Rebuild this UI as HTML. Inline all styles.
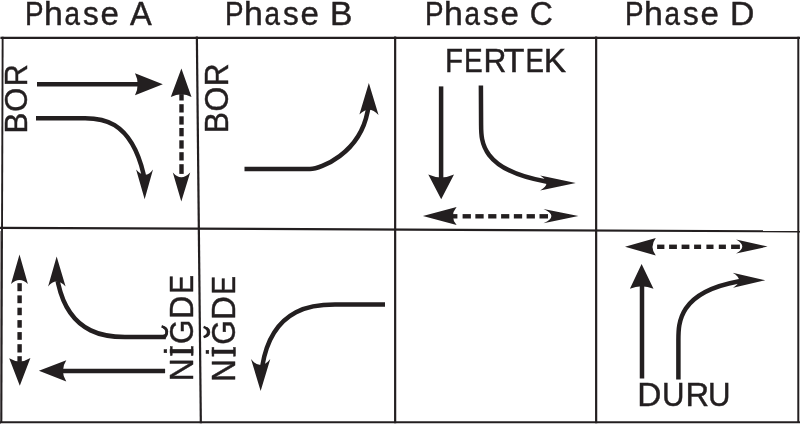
<!DOCTYPE html>
<html><head><meta charset="utf-8"><title>Phases</title>
<style>html,body{margin:0;padding:0;background:#fff;width:800px;height:424px;overflow:hidden}svg{display:block;will-change:transform}</style>
</head><body><svg width="800" height="424" viewBox="0 0 800 424"><rect x="0" y="231" width="1" height="193" fill="#999596"/><g fill="none" stroke="#231f20" stroke-width="2.2" stroke-linecap="square"><path d="M1.5,37.8 L799,37.8"/><path d="M0.5,422.25 L799,422.25" stroke-width="2"/><path d="M1,227.8 L799,231.4"/><path d="M2.65,37.7 L1.4,422.1" stroke-width="1.9"/><path d="M196.87,37.7 L200.83,422.1"/><path d="M395.15,37.7 L395.15,422.1"/><path d="M596.15,37.7 L596.15,422.1"/><path d="M798.3,37.7 L798.3,422.1" stroke-width="2"/></g><g fill="none" stroke="#231f20" stroke-width="4.5" stroke-linejoin="round"><path d="M37,84.2 L138,84.2"/><path d="M36,118.2 L85,118.2 C98.9,118.2 130.4,118.2 143.5,174.0 L144,177"/><path d="M244.5,169 L310,169 C320.5,169 359.4,153.7 367.5,112.0 L368.3,108"/><path d="M441.1,86.4 L441.1,178"/><path d="M480.9,85.5 L481.1,125 C481.1,141.3 481.1,169.9 546.0,181.5 L549,182"/><path d="M642,378.5 L642,285"/><path d="M678.4,379.6 L678.4,340 C678.4,322.9 678.4,292.6 738.0,281.5 L741,281"/><path d="M165.8,337 L125,337 C110.6,337.0 70.1,337.0 58.3,284.0 L57.7,281"/><path d="M165.1,370.9 L62,370.9"/><path d="M385,304.6 L335,304.6 C317.8,304.6 272.5,304.6 262.3,366.0 L261.8,369"/></g><g fill="#231f20" stroke="none"><path d="M162.8,84.25 L135,73.2 Q140.40,84.25 135,95.3 Z"/><path d="M144.65,199.2 L136.1,169.4 Q145.45,180.20 153,169.4 Z"/><path d="M181.4,68.6 L170.8,97 Q181.65,91.60 191.5,97 Z"/><path d="M181.3,201.4 L172.8,172.6 Q181.10,182.00 190.2,172.6 Z"/><rect x="179.30" y="94.10" width="4.4" height="6.40"/><rect x="179.30" y="104.20" width="4.4" height="8.30"/><rect x="179.30" y="116.30" width="4.4" height="8.30"/><rect x="179.30" y="128.00" width="4.4" height="8.30"/><rect x="179.30" y="140.30" width="4.4" height="8.30"/><rect x="179.30" y="152.20" width="4.4" height="8.30"/><rect x="179.30" y="164.20" width="4.4" height="9.70"/><path d="M368.85,83 L359.4,114.6 Q369.02,104.75 378.55,115.1 Z"/><path d="M441.2,199.3 L428.3,174.6 Q441.25,180.40 454,174.6 Z"/><path d="M575.75,183.1 L540.2,175.6 Q552.80,183.60 540.2,190.4 Z"/><path d="M422.9,216.1 L456.6,207.1 Q449.20,216.10 456.6,225.1 Z"/><path d="M578.4,216.1 L543.5,209 Q559.30,216.07 543.5,223.25 Z"/><rect x="452.10" y="214.10" width="5.30" height="4.4"/><rect x="462.60" y="214.10" width="8.30" height="4.4"/><rect x="475.35" y="214.10" width="8.30" height="4.4"/><rect x="488.20" y="214.10" width="8.20" height="4.4"/><rect x="501.10" y="214.10" width="8.20" height="4.4"/><rect x="513.85" y="214.10" width="8.30" height="4.4"/><rect x="526.60" y="214.10" width="8.30" height="4.4"/><rect x="539.50" y="214.10" width="8.50" height="4.4"/><path d="M625,246.8 L655.8,238 Q649.20,246.85 655.8,255.5 Z"/><path d="M767.6,246.6 L736.1,239.6 Q748.50,246.60 736.1,253.6 Z"/><rect x="657.10" y="244.60" width="7.30" height="4.4"/><rect x="669.10" y="244.60" width="7.80" height="4.4"/><rect x="681.60" y="244.60" width="7.80" height="4.4"/><rect x="694.10" y="244.60" width="7.00" height="4.4"/><rect x="706.40" y="244.60" width="7.10" height="4.4"/><rect x="718.80" y="244.60" width="7.10" height="4.4"/><rect x="731.10" y="244.60" width="8.80" height="4.4"/><path d="M641.6,264 L629.9,288.7 Q641.50,283.70 653.5,288.7 Z"/><path d="M765.2,280.2 L732.6,272.8 Q745.35,280.10 733.1,287.8 Z"/><path d="M19.5,254.4 L11,284 Q19.55,276.00 27.9,284 Z"/><path d="M19.8,385.8 L9.2,358.3 Q19.80,364.65 30.4,358 Z"/><rect x="17.40" y="283.20" width="4.4" height="8.00"/><rect x="17.40" y="295.40" width="4.4" height="7.80"/><rect x="17.40" y="307.70" width="4.4" height="7.50"/><rect x="17.40" y="320.10" width="4.4" height="7.60"/><rect x="17.40" y="332.10" width="4.4" height="7.70"/><rect x="17.40" y="344.20" width="4.4" height="8.30"/><rect x="17.40" y="356.20" width="4.4" height="5.70"/><path d="M56.65,256.6 L48.1,286.6 Q56.15,276.40 65.6,286.6 Z"/><path d="M38.9,370.8 L66.3,360.25 Q59.50,370.68 66.3,381.6 Z"/><path d="M260.65,391.1 L251,358.9 Q260.35,371.10 270.3,358.9 Z"/></g><g fill="#231f20" stroke="#231f20" stroke-width="0.45" font-family="Liberation Sans, sans-serif"><text y="24.50" font-size="32.99" ><tspan x="24.92" textLength="18.55" lengthAdjust="spacingAndGlyphs">P</tspan><tspan x="43.95" textLength="18.85" lengthAdjust="spacingAndGlyphs">h</tspan><tspan x="64.62" textLength="15.48" lengthAdjust="spacingAndGlyphs">a</tspan><tspan x="83.03" textLength="15.71" lengthAdjust="spacingAndGlyphs">s</tspan><tspan x="100.40" textLength="18.37" lengthAdjust="spacingAndGlyphs">e</tspan> <tspan x="130.04" textLength="21.73" lengthAdjust="spacingAndGlyphs">A</tspan></text><text y="24.50" font-size="32.99" ><tspan x="224.92" textLength="18.55" lengthAdjust="spacingAndGlyphs">P</tspan><tspan x="243.95" textLength="18.85" lengthAdjust="spacingAndGlyphs">h</tspan><tspan x="264.62" textLength="15.48" lengthAdjust="spacingAndGlyphs">a</tspan><tspan x="283.03" textLength="15.71" lengthAdjust="spacingAndGlyphs">s</tspan><tspan x="300.40" textLength="18.37" lengthAdjust="spacingAndGlyphs">e</tspan> <tspan x="330.14" textLength="22.43" lengthAdjust="spacingAndGlyphs">B</tspan></text><text y="24.50" font-size="32.99" ><tspan x="424.92" textLength="18.55" lengthAdjust="spacingAndGlyphs">P</tspan><tspan x="443.95" textLength="18.85" lengthAdjust="spacingAndGlyphs">h</tspan><tspan x="464.62" textLength="15.48" lengthAdjust="spacingAndGlyphs">a</tspan><tspan x="483.03" textLength="15.71" lengthAdjust="spacingAndGlyphs">s</tspan><tspan x="500.40" textLength="18.37" lengthAdjust="spacingAndGlyphs">e</tspan> <tspan x="529.68" textLength="23.03" lengthAdjust="spacingAndGlyphs">C</tspan></text><text y="24.50" font-size="32.99" ><tspan x="624.92" textLength="18.55" lengthAdjust="spacingAndGlyphs">P</tspan><tspan x="643.95" textLength="18.85" lengthAdjust="spacingAndGlyphs">h</tspan><tspan x="664.62" textLength="15.48" lengthAdjust="spacingAndGlyphs">a</tspan><tspan x="683.03" textLength="15.71" lengthAdjust="spacingAndGlyphs">s</tspan><tspan x="700.40" textLength="18.37" lengthAdjust="spacingAndGlyphs">e</tspan> <tspan x="730.13" textLength="24.39" lengthAdjust="spacingAndGlyphs">D</tspan></text><text transform="translate(27.40,0) rotate(-90)" font-size="32.27" ><tspan x="-133.57" textLength="20.93" lengthAdjust="spacingAndGlyphs">B</tspan><tspan x="-111.76" textLength="24.04" lengthAdjust="spacingAndGlyphs">O</tspan><tspan x="-86.31" textLength="22.14" lengthAdjust="spacingAndGlyphs">R</tspan></text><text transform="translate(228.20,0) rotate(-90)" font-size="32.41" ><tspan x="-133.22" textLength="21.30" lengthAdjust="spacingAndGlyphs">B</tspan><tspan x="-111.51" textLength="24.84" lengthAdjust="spacingAndGlyphs">O</tspan><tspan x="-86.18" textLength="22.74" lengthAdjust="spacingAndGlyphs">R</tspan></text><text y="72.30" font-size="33.14" ><tspan x="444.98" textLength="18.00" lengthAdjust="spacingAndGlyphs">F</tspan><tspan x="463.90" textLength="18.71" lengthAdjust="spacingAndGlyphs">E</tspan><tspan x="483.60" textLength="22.87" lengthAdjust="spacingAndGlyphs">R</tspan><tspan x="503.63" textLength="20.96" lengthAdjust="spacingAndGlyphs">T</tspan><tspan x="525.43" textLength="18.46" lengthAdjust="spacingAndGlyphs">E</tspan><tspan x="543.85" textLength="22.32" lengthAdjust="spacingAndGlyphs">K</tspan></text><text transform="translate(192.90,0) rotate(-90)" font-size="34.01" ><tspan x="-381.21" textLength="23.01" lengthAdjust="spacingAndGlyphs">N</tspan><tspan x="-356.46" textLength="10.72" lengthAdjust="spacingAndGlyphs">İ</tspan><tspan x="-344.08" textLength="24.43" lengthAdjust="spacingAndGlyphs">Ğ</tspan><tspan x="-318.96" textLength="23.41" lengthAdjust="spacingAndGlyphs">D</tspan><tspan x="-293.57" textLength="18.46" lengthAdjust="spacingAndGlyphs">E</tspan></text><text transform="translate(234.90,0) rotate(-90)" font-size="33.87" ><tspan x="-381.67" textLength="22.62" lengthAdjust="spacingAndGlyphs">N</tspan><tspan x="-357.06" textLength="10.43" lengthAdjust="spacingAndGlyphs">İ</tspan><tspan x="-344.69" textLength="24.66" lengthAdjust="spacingAndGlyphs">Ğ</tspan><tspan x="-320.00" textLength="23.78" lengthAdjust="spacingAndGlyphs">D</tspan><tspan x="-294.57" textLength="18.46" lengthAdjust="spacingAndGlyphs">E</tspan></text><text y="405.70" font-size="33.29" ><tspan x="637.26" textLength="24.14" lengthAdjust="spacingAndGlyphs">D</tspan><tspan x="661.90" textLength="22.51" lengthAdjust="spacingAndGlyphs">U</tspan><tspan x="685.42" textLength="23.60" lengthAdjust="spacingAndGlyphs">R</tspan><tspan x="707.90" textLength="22.51" lengthAdjust="spacingAndGlyphs">U</tspan></text><rect x="170.30" y="346.60" width="1.9" height="9.00"/><rect x="191.20" y="346.60" width="1.9" height="9.00"/><rect x="212.00" y="347.40" width="1.9" height="8.80"/><rect x="233.50" y="347.40" width="1.9" height="8.80"/><path d="M161.6,326.2 C168,328.5 168,335 163.8,337.8" fill="none" stroke="#231f20" stroke-width="2.5"/><path d="M203.6,326.8 C209.6,329 209.6,335 203.6,337.2" fill="none" stroke="#231f20" stroke-width="2.5"/></g></svg></body></html>
